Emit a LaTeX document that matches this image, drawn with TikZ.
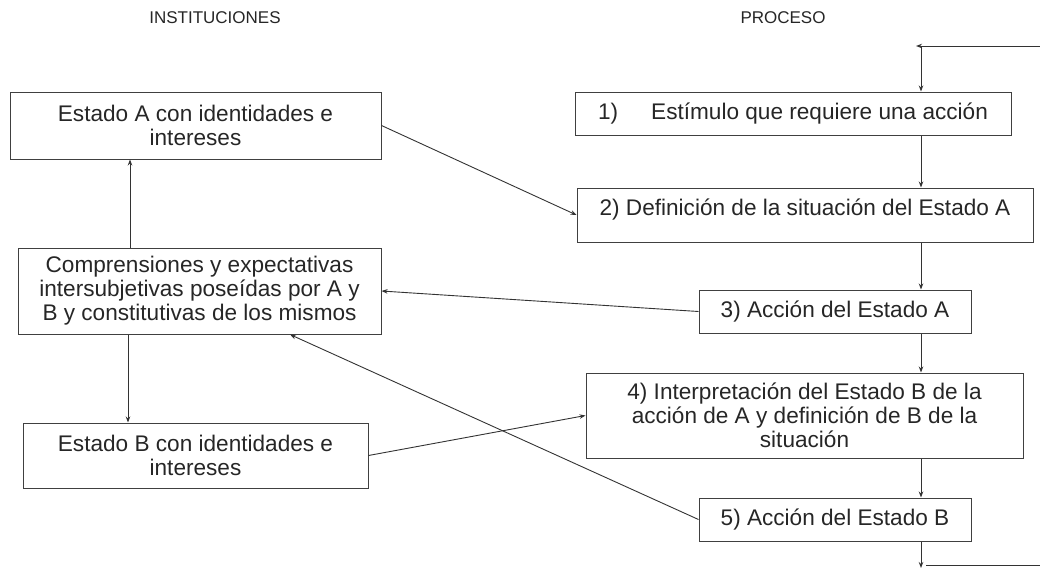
\documentclass[tikz,border=0pt]{standalone}
\usepackage{fontspec}
\setmainfont{Liberation Sans}
\usetikzlibrary{arrows.meta}

\begin{document}
\begin{tikzpicture}[x=1pt,y=-1pt,
    >={Stealth[length=6pt,width=4.5pt]},
    caja/.style={draw=black!75,line width=1pt,inner sep=0pt,align=center,
        text=black!85,font=\fontsize{22.6}{24}\selectfont},
    titulo/.style={text=black!85,font=\fontsize{17}{19}\selectfont},
    flecha/.style={->,draw=black!80,line width=0.9pt}]

    \useasboundingbox (0,0) rectangle (1040,570);

    \node[titulo] (tinst) at (215,18) {INSTITUCIONES};
    \node[titulo] (tproc) at (783,18) {PROCESO};

    % instituciones
    \node[caja,minimum width=371pt,minimum height=67pt] (estA) at (195.5,125.5)
        {Estado A con identidades e\\intereses};
    \node[caja,minimum width=363pt,minimum height=86pt] (comp) at (199.5,291)
        {Comprensiones y expectativas\\intersubjetivas poseídas por A y\\B y constitutivas de los mismos};
    \node[caja,minimum width=345pt,minimum height=65pt] (estB) at (195.5,455.5)
        {Estado B con identidades e\\intereses};

    % proceso
    \node[caja,minimum width=436pt,minimum height=43pt] (p1) at (793,113.5)
        {1)\hspace{33pt}Estímulo que requiere una acción};
    \node[caja,minimum width=456pt,minimum height=54pt,text depth=15pt] (p2) at (805,215)
        {2) Definición de la situación del Estado A};
    \node[caja,minimum width=272pt,minimum height=43pt] (p3) at (835,311.5)
        {3) Acción del Estado A};
    \node[caja,minimum width=437pt,minimum height=85pt] (p4) at (804.5,415.5)
        {4) Interpretación del Estado B de la\\acción de A y definición de B de la\\situación};
    \node[caja,minimum width=272pt,minimum height=43pt] (p5) at (835,519.5)
        {5) Acción del Estado B};

    \coordinate (eje) at (921,0);
    \coordinate (salida) at (921,568);
    \coordinate (retorno) at (926,565);
    \coordinate (lazoab) at (1040.2,565);
    \coordinate (lazoarr) at (1040.2,46);
    \coordinate (entrada) at (916,46);

    % cadena del proceso
    \draw[flecha] (eje |- entrada) -- (p1.north -| eje);
    \draw[flecha] (p1.south -| eje) -- (p2.north -| eje);
    \draw[flecha] (p2.south -| eje) -- (p3.north -| eje);
    \draw[flecha] (p3.south -| eje) -- (p4.north -| eje);
    \draw[flecha] (p4.south -| eje) -- (p5.north -| eje);
    \draw[flecha] (p5.south -| salida) -- (salida);
    \draw[flecha] (retorno) -- (lazoab) -- (lazoarr) -- (entrada);

    % enlaces
    \draw[flecha] ([xshift=-69.5pt]comp.north) -- ([xshift=-69.5pt]comp.north |- estA.south);
    \draw[flecha] ([xshift=-71.5pt]comp.south) -- ([xshift=-71.5pt]comp.south |- estB.north);
    \draw[flecha] (estA.east) -- (p2.west);
    \draw[flecha] (p3.west) -- (comp.east);
    \draw[flecha] (p5.west) -- ([xshift=90.5pt]comp.south);
    \draw[flecha] (estB.east) -- (p4.west);

\end{tikzpicture}
\end{document}
